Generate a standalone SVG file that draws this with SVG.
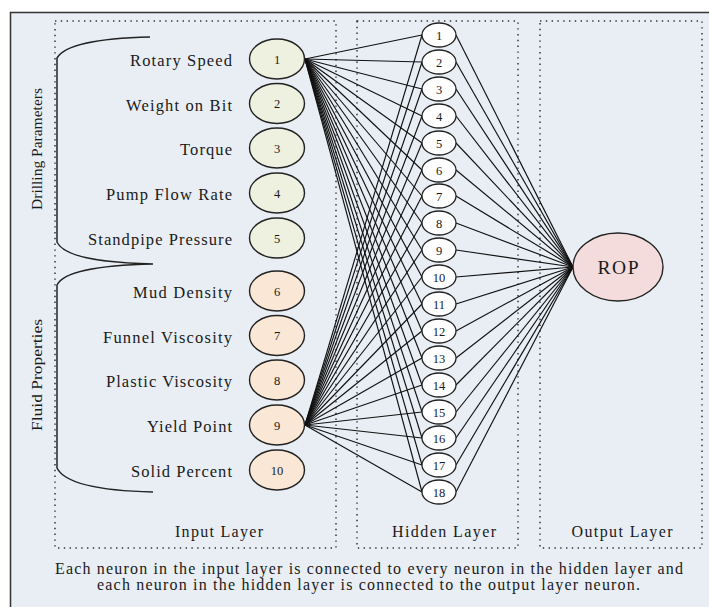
<svg xmlns="http://www.w3.org/2000/svg" width="709" height="607" viewBox="0 0 709 607">
<style>
text{font-family:"Liberation Serif","Times New Roman",serif;fill:#1a1a1a}
.lbl{font-size:16.5px;text-anchor:end}
.num{font-size:12.5px;text-anchor:middle}
.hn{font-size:12.5px;text-anchor:middle}
.lay{font-size:16px;text-anchor:middle}
.cap{font-size:16px;text-anchor:middle}
.grp{font-size:15.5px;text-anchor:middle}
.box{fill:none;stroke:#333;stroke-width:1.5;stroke-dasharray:1.4 4.4}
.in1{fill:#eef1df;stroke:#222;stroke-width:1.4}
.in2{fill:#fbe7d5;stroke:#222;stroke-width:1.4}
.hid{fill:#fff;stroke:#222;stroke-width:1.3}
.con line{stroke:#111;stroke-width:1.15}
.brace{fill:none;stroke:#222;stroke-width:1.5}
</style>
<rect x="0" y="0" width="709" height="607" fill="#fff"/>
<rect x="10.5" y="12.5" width="720" height="620" fill="#e9eef5" stroke="#333" stroke-width="1.5"/>
<g id="layer-boxes">
<rect class="box" x="55" y="21" width="281" height="527"/>
<rect class="box" x="357" y="21" width="161" height="527"/>
<rect class="box" x="540" y="21" width="162" height="527"/>
</g>
<g id="braces">
<path class="brace" d="M150,37 Q68,39 57,58 L57,242 Q66,262 153,264 Q66,266 57,285 L57,468 Q68,490 153,492"/>
<text class="grp" transform="translate(42,149) rotate(-90)" textLength="122" lengthAdjust="spacingAndGlyphs">Drilling Parameters</text>
<text class="grp" transform="translate(42,375) rotate(-90)" textLength="112" lengthAdjust="spacingAndGlyphs">Fluid Properties</text>
</g>
<g id="connectors" class="con">
<line x1="305" y1="59" x2="422" y2="35"/>
<line x1="305" y1="59" x2="422" y2="62"/>
<line x1="305" y1="59" x2="422" y2="89"/>
<line x1="305" y1="59" x2="422" y2="116"/>
<line x1="305" y1="59" x2="422" y2="143"/>
<line x1="305" y1="59" x2="422" y2="170"/>
<line x1="305" y1="59" x2="422" y2="196"/>
<line x1="305" y1="59" x2="422" y2="223"/>
<line x1="305" y1="59" x2="422" y2="250"/>
<line x1="305" y1="59" x2="422" y2="277"/>
<line x1="305" y1="59" x2="422" y2="304"/>
<line x1="305" y1="59" x2="422" y2="331"/>
<line x1="305" y1="59" x2="422" y2="358"/>
<line x1="305" y1="59" x2="422" y2="385"/>
<line x1="305" y1="59" x2="422" y2="412"/>
<line x1="305" y1="59" x2="422" y2="438"/>
<line x1="305" y1="59" x2="422" y2="465"/>
<line x1="305" y1="59" x2="422" y2="492"/>
<line x1="305" y1="425" x2="422" y2="35"/>
<line x1="305" y1="425" x2="422" y2="62"/>
<line x1="305" y1="425" x2="422" y2="89"/>
<line x1="305" y1="425" x2="422" y2="116"/>
<line x1="305" y1="425" x2="422" y2="143"/>
<line x1="305" y1="425" x2="422" y2="170"/>
<line x1="305" y1="425" x2="422" y2="196"/>
<line x1="305" y1="425" x2="422" y2="223"/>
<line x1="305" y1="425" x2="422" y2="250"/>
<line x1="305" y1="425" x2="422" y2="277"/>
<line x1="305" y1="425" x2="422" y2="304"/>
<line x1="305" y1="425" x2="422" y2="331"/>
<line x1="305" y1="425" x2="422" y2="358"/>
<line x1="305" y1="425" x2="422" y2="385"/>
<line x1="305" y1="425" x2="422" y2="412"/>
<line x1="305" y1="425" x2="422" y2="438"/>
<line x1="305" y1="425" x2="422" y2="465"/>
<line x1="305" y1="425" x2="422" y2="492"/>
<line x1="456" y1="35" x2="573" y2="267"/>
<line x1="456" y1="62" x2="573" y2="267"/>
<line x1="456" y1="89" x2="573" y2="267"/>
<line x1="456" y1="116" x2="573" y2="267"/>
<line x1="456" y1="143" x2="573" y2="267"/>
<line x1="456" y1="170" x2="573" y2="267"/>
<line x1="456" y1="196" x2="573" y2="267"/>
<line x1="456" y1="223" x2="573" y2="267"/>
<line x1="456" y1="250" x2="573" y2="267"/>
<line x1="456" y1="277" x2="573" y2="267"/>
<line x1="456" y1="304" x2="573" y2="267"/>
<line x1="456" y1="331" x2="573" y2="267"/>
<line x1="456" y1="358" x2="573" y2="267"/>
<line x1="456" y1="385" x2="573" y2="267"/>
<line x1="456" y1="412" x2="573" y2="267"/>
<line x1="456" y1="438" x2="573" y2="267"/>
<line x1="456" y1="465" x2="573" y2="267"/>
<line x1="456" y1="492" x2="573" y2="267"/>
</g>
<g id="in1"><ellipse class="in1" cx="277" cy="59" rx="27.5" ry="20"/><text class="num" x="277" y="63.5">1</text><text class="lbl" x="232" y="66" textLength="102">Rotary Speed</text></g>
<g id="in2"><ellipse class="in1" cx="277" cy="103.5" rx="27.5" ry="20"/><text class="num" x="277" y="108">2</text><text class="lbl" x="232" y="110.5" textLength="106">Weight on Bit</text></g>
<g id="in3"><ellipse class="in1" cx="277" cy="148" rx="27.5" ry="20"/><text class="num" x="277" y="152.5">3</text><text class="lbl" x="232" y="155" textLength="52">Torque</text></g>
<g id="in4"><ellipse class="in1" cx="277" cy="193" rx="27.5" ry="20"/><text class="num" x="277" y="197.5">4</text><text class="lbl" x="232" y="200" textLength="126">Pump Flow Rate</text></g>
<g id="in5"><ellipse class="in1" cx="277" cy="238" rx="27.5" ry="20"/><text class="num" x="277" y="242.5">5</text><text class="lbl" x="232" y="245" textLength="144">Standpipe Pressure</text></g>
<g id="in6"><ellipse class="in2" cx="277" cy="291" rx="27.5" ry="20"/><text class="num" x="277" y="295.5">6</text><text class="lbl" x="232" y="298" textLength="99">Mud Density</text></g>
<g id="in7"><ellipse class="in2" cx="277" cy="335.5" rx="27.5" ry="20"/><text class="num" x="277" y="340">7</text><text class="lbl" x="232" y="342.5" textLength="129">Funnel Viscosity</text></g>
<g id="in8"><ellipse class="in2" cx="277" cy="380" rx="27.5" ry="20"/><text class="num" x="277" y="384.5">8</text><text class="lbl" x="232" y="387" textLength="126">Plastic Viscosity</text></g>
<g id="in9"><ellipse class="in2" cx="277" cy="425" rx="27.5" ry="20"/><text class="num" x="277" y="429.5">9</text><text class="lbl" x="232" y="432" textLength="85">Yield Point</text></g>
<g id="in10"><ellipse class="in2" cx="277" cy="470" rx="27.5" ry="20"/><text class="num" x="277" y="474.5">10</text><text class="lbl" x="232" y="477" textLength="101">Solid Percent</text></g>
<g id="h1"><ellipse class="hid" cx="439" cy="35" rx="17" ry="12"/><text class="hn" x="439" y="39.5">1</text></g>
<g id="h2"><ellipse class="hid" cx="439" cy="62" rx="17" ry="12"/><text class="hn" x="439" y="66.5">2</text></g>
<g id="h3"><ellipse class="hid" cx="439" cy="89" rx="17" ry="12"/><text class="hn" x="439" y="93.5">3</text></g>
<g id="h4"><ellipse class="hid" cx="439" cy="116" rx="17" ry="12"/><text class="hn" x="439" y="120.5">4</text></g>
<g id="h5"><ellipse class="hid" cx="439" cy="143" rx="17" ry="12"/><text class="hn" x="439" y="147.5">5</text></g>
<g id="h6"><ellipse class="hid" cx="439" cy="170" rx="17" ry="12"/><text class="hn" x="439" y="174.5">6</text></g>
<g id="h7"><ellipse class="hid" cx="439" cy="196" rx="17" ry="12"/><text class="hn" x="439" y="200.5">7</text></g>
<g id="h8"><ellipse class="hid" cx="439" cy="223" rx="17" ry="12"/><text class="hn" x="439" y="227.5">8</text></g>
<g id="h9"><ellipse class="hid" cx="439" cy="250" rx="17" ry="12"/><text class="hn" x="439" y="254.5">9</text></g>
<g id="h10"><ellipse class="hid" cx="439" cy="277" rx="17" ry="12"/><text class="hn" x="439" y="281.5">10</text></g>
<g id="h11"><ellipse class="hid" cx="439" cy="304" rx="17" ry="12"/><text class="hn" x="439" y="308.5">11</text></g>
<g id="h12"><ellipse class="hid" cx="439" cy="331" rx="17" ry="12"/><text class="hn" x="439" y="335.5">12</text></g>
<g id="h13"><ellipse class="hid" cx="439" cy="358" rx="17" ry="12"/><text class="hn" x="439" y="362.5">13</text></g>
<g id="h14"><ellipse class="hid" cx="439" cy="385" rx="17" ry="12"/><text class="hn" x="439" y="389.5">14</text></g>
<g id="h15"><ellipse class="hid" cx="439" cy="412" rx="17" ry="12"/><text class="hn" x="439" y="416.5">15</text></g>
<g id="h16"><ellipse class="hid" cx="439" cy="438" rx="17" ry="12"/><text class="hn" x="439" y="442.5">16</text></g>
<g id="h17"><ellipse class="hid" cx="439" cy="465" rx="17" ry="12"/><text class="hn" x="439" y="469.5">17</text></g>
<g id="h18"><ellipse class="hid" cx="439" cy="492" rx="17" ry="12"/><text class="hn" x="439" y="496.5">18</text></g>
<g id="rop"><ellipse cx="618" cy="267" rx="45" ry="34" fill="#f3dcdb" stroke="#222" stroke-width="1.4"/><text x="618" y="273.5" font-size="19.5" text-anchor="middle" textLength="41">ROP</text></g>
<g id="layer-labels">
<text class="lay" x="219" y="537" textLength="88">Input Layer</text>
<text class="lay" x="444" y="537" textLength="104">Hidden Layer</text>
<text class="lay" x="622" y="537" textLength="101">Output Layer</text>
</g>
<g id="caption">
<text class="cap" x="369" y="574" textLength="628">Each neuron in the input layer is connected to every neuron in the hidden layer and</text>
<text class="cap" x="368.5" y="590" textLength="543">each neuron in the hidden layer is connected to the output layer neuron.</text>
</g>
</svg>
